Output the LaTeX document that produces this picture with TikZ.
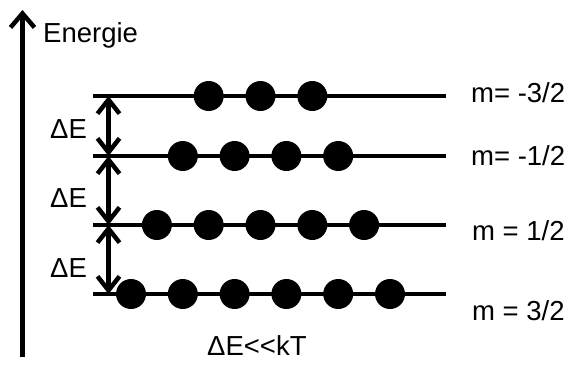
\documentclass[tikz,border=0pt]{standalone}
\usepackage{fontspec}
\setmainfont{Liberation Sans}
\usetikzlibrary{arrows.meta}

\begin{document}
\begin{tikzpicture}[x=1pt,y=-1pt,
      every node/.append style={inner sep=0pt,font=\fontsize{27.5}{32}\selectfont},
      level/.style={line width=4.5pt},
      axis/.style={line width=4.5pt,-{Straight Barb[length=14pt,width=24pt]}},
      gap/.style={line width=4.5pt,{Straight Barb[length=14pt,width=22pt]}-{Straight Barb[length=14pt,width=22pt]}},
      dot/.style={circle,fill=black,minimum size=30pt}]
    \useasboundingbox (0,0) rectangle (568,365);
    \coordinate (axisbot) at (22.5,357);
    \coordinate (axistop) at (22.5,10);
    \draw[axis] (axisbot) -- (axistop);
    \node (energy) [anchor=base west] at (43,42) {Energie};
    \foreach \name/\y/\n in {A/96/3, B/156/4, C/225/5, D/294/6} {
      \coordinate (\name-w) at (93,\y);
      \coordinate (\name-e) at (446,\y);
      \coordinate (\name-a) at (108.5,\y);
      \draw[level] (\name-w) -- (\name-e);
      \foreach \i in {1,...,\n}
        \node (\name\i) [dot] at ({260.5+(\i-(\n+1)/2)*51.8},\y) {};
    }
    \draw[gap] (A-a) -- (B-a);
    \draw[gap] (B-a) -- (C-a);
    \draw[gap] (C-a) -- (D-a);
    \node (dE1) [anchor=base] at (68.5,138) {ΔE};
    \node (dE2) [anchor=base] at (68.5,207) {ΔE};
    \node (dE3) [anchor=base] at (68.5,277) {ΔE};
    \node (mA) [anchor=base west] at (471,102) {m= -3/2};
    \node (mB) [anchor=base west] at (471,165) {m= -1/2};
    \node (mC) [anchor=base west] at (472,240) {m = 1/2};
    \node (mD) [anchor=base west] at (472,320) {m = 3/2};
    \node (cond) [anchor=base west] at (207,355) {ΔE<\kern0pt<kT};
  \end{tikzpicture}
\end{document}
